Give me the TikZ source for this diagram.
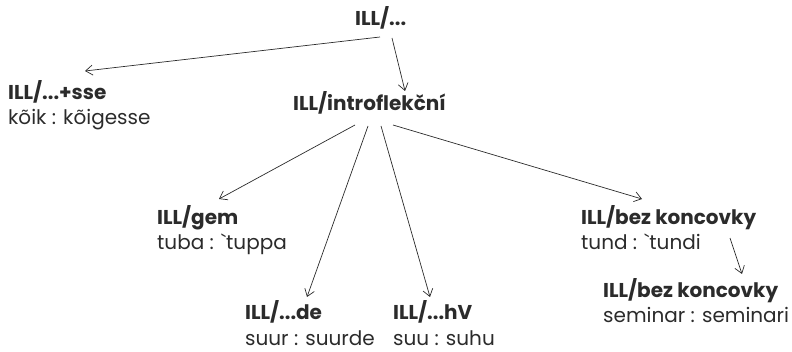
\documentclass[tikz,border=0pt]{standalone}
\usepackage{fontspec}
\setmainfont{Poppins}
\usetikzlibrary{arrows.meta,calc}
\definecolor{ink}{HTML}{2B2B2B}

\tikzset{
  lbl/.style={anchor=base west, inner sep=0pt, align=left, text=ink,
    font=\fontsize{20}{25}\selectfont},
  link/.style={-{Straight Barb[length=7pt,width=10pt]}, draw=ink, line width=0.7pt},
}

\begin{document}
\begin{tikzpicture}[x=1pt,y=-1pt]
    \useasboundingbox (0,0) rectangle (792,352);
    % nodes (base = baseline of the last line)
    \node[lbl] (root) at (355,26) {\textbf{ILL/...}};
    \node[lbl] (sse) at (8,125) {\textbf{ILL/...+sse}\\kõik : kõigesse};
    \node[lbl] (intro) at (293,111) {\textbf{ILL/introflekční}};
    \node[lbl] (gem) at (157,250) {\textbf{ILL/gem}\\tuba : \textasciigrave tuppa};
    \node[lbl] (de) at (245,345) {\textbf{ILL/...de}\\suur : suurde};
    \node[lbl] (hv) at (393,345) {\textbf{ILL/...hV}\\suu : suhu};
    \node[lbl] (bez) at (581,250) {\textbf{ILL/bez koncovky}\\tund : \textasciigrave tundi};
    \node[lbl] (bezsem) at (603,323) {\textbf{ILL/bez koncovky}\\seminar : seminari};
    % arrows
    \draw[link] ([shift={(25,11)}]root.base west) -- ([shift={(77,-54)}]sse.base west);
    \draw[link] ([shift={(37,12)}]root.base west) -- ([shift={(112,-20)}]intro.base west);
    \draw[link] ([shift={(62,14)}]intro.base west) -- ([shift={(62,-51)}]gem.base west);
    \draw[link] ([shift={(75,15)}]intro.base west) -- ([shift={(62,-48)}]de.base west);
    \draw[link] ([shift={(88,15)}]intro.base west) -- ([shift={(37,-48)}]hv.base west);
    \draw[link] ([shift={(100,14)}]intro.base west) -- ([shift={(61,-51)}]bez.base west);
    \draw[link] ([shift={(149,-12)}]bez.base west) -- ([shift={(139,-49)}]bezsem.base west);
\end{tikzpicture}
\end{document}
